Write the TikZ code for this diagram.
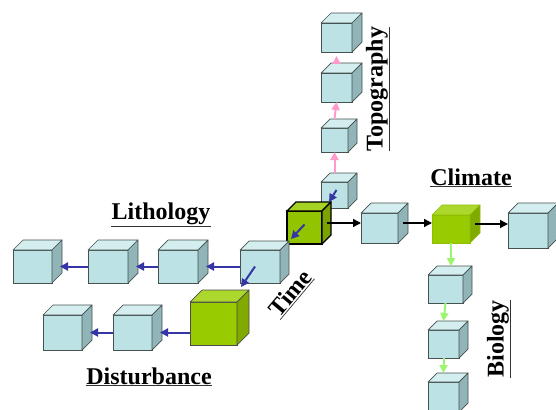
\documentclass[tikz,border=0pt]{standalone}
\usepackage{fontspec}
\setmainfont{Liberation Serif}
\usetikzlibrary{arrows.meta}
\definecolor{bfront}{HTML}{BDE2E5}
\definecolor{btop}{HTML}{D4EEF0}
\definecolor{bside}{HTML}{90B4B8}
\definecolor{bline}{HTML}{45524F}
\definecolor{gfront}{HTML}{99CC00}
\definecolor{gtop}{HTML}{ACD72C}
\definecolor{gside}{HTML}{80AA00}
\definecolor{gline}{HTML}{8DBE00}
\definecolor{tfront}{HTML}{93C400}
\definecolor{ttop}{HTML}{A6D224}
\definecolor{tside}{HTML}{7AA200}
\definecolor{arrblue}{HTML}{3535A5}
\definecolor{arrpink}{HTML}{FF9ACB}
\definecolor{arrgreen}{HTML}{9BF56E}
\newcommand\drawcube[8]{%
 \node[inner sep=0pt, outer sep=0pt, minimum width={(#4-#2)*1pt}, minimum height={(#5-#3)*1pt}, fill=#7front, #8] (#1) at ({(#2+#4)/2},{(#3+#5)/2}) {};
 \filldraw[fill=#7top, #8, line join=round] (#1.north west) -- ++(#6,-#6) -- ++({#4-#2},0) -- (#1.north east) -- cycle;
 \filldraw[fill=#7side, #8, line join=round] (#1.north east) -- ++(#6,-#6) -- ++(0,{#5-#3}) -- (#1.south east) -- cycle;
 \path (#1.east) ++({#6/2},{-#6/2}) coordinate (#1-s);
 \path (#1.north) ++(0,-#6) coordinate (#1-t);
 \path (#1.north east) ++(#6,-#6) coordinate (#1-k);
}
\tikzset{
 bcube/.style={draw=bline, line width=0.7pt},
 gcube/.style={draw=gline, line width=0.6pt},
 dcube/.style={draw=black!70, line width=0.7pt},
 tcube/.style={draw=black, line width=1.4pt},
 arr/.style={line width=2pt, -{Triangle[length=8pt,width=8pt]}},
 bluearr/.style={arr, draw=arrblue, arrblue},
 pinkarr/.style={arr, draw=arrpink, arrpink},
 greenarr/.style={arr, draw=arrgreen, arrgreen},
 blackarr/.style={arr, draw=black, line width=1.4pt},
 lbl/.style={font=\fontsize{24}{28}\selectfont\bfseries, inner xsep=0pt, inner ysep=1pt},
}
\newcommand\uline[1]{\draw[line width=0.7pt, black!80] (#1.south west) -- (#1.south east);}
\begin{document}
\begin{tikzpicture}[x=1pt, y=-1pt]
\fill[white] (0,0) rectangle (556,409);
\useasboundingbox (0,0) rectangle (556,409);
% topography column
\drawcube{T1}{321}{23}{352}{52}{10}{b}{bcube}
\drawcube{T2}{321}{73}{352}{102}{10}{b}{bcube}
\drawcube{T3}{321}{128}{348}{152}{9}{b}{bcube}
\drawcube{T4}{321}{182}{348}{208}{9}{b}{bcube}
% climate row
\drawcube{A}{361}{213}{398}{243}{10}{b}{bcube}
\drawcube{C}{432}{215}{470}{243}{10}{g}{gcube}
\drawcube{R}{508}{213}{548}{248}{10}{b}{bcube}
% biology column
\drawcube{B1}{428}{275}{463}{303}{9}{b}{bcube}
\drawcube{B2}{428}{330}{459}{358}{9}{b}{bcube}
\drawcube{B3}{428}{382}{459}{412}{9}{b}{bcube}
% lithology row
\drawcube{L4}{13}{250}{52}{283}{10}{b}{bcube}
\drawcube{L3}{88}{250}{128}{283}{10}{b}{bcube}
\drawcube{L2}{158}{250}{198}{283}{10}{b}{bcube}
% disturbance row
\drawcube{D2}{43}{315}{82}{350}{10}{b}{bcube}
\drawcube{D1}{113}{315}{152}{350}{10}{b}{bcube}
% time cube and neighbours
\drawcube{G}{287}{211}{322}{244}{9}{t}{tcube}
\drawcube{L1}{240}{250}{280}{283}{9}{b}{bcube}
\drawcube{D0}{190}{302}{237}{345}{12}{g}{dcube}
% pink arrows
\draw[pinkarr] (T4-t) -- (T3.south);
\draw[pinkarr] (T3-t) -- (T2.south);
\draw[pinkarr] (T2-t) -- ([yshift=-4pt]T1.south);
% black arrows
\draw[blackarr] (G-s) -- (G-s -| A.west);
\draw[blackarr] (A-s) -- (A-s -| C.west);
\draw[blackarr] (C-s) -- (C-s -| R.west);
% green arrows
\draw[greenarr] (C.south) -- (C.south |- B1-t);
\draw[greenarr] (B1.south) -- (B2-t);
\draw[greenarr] (B2.south) -- (B3-t);
% blue arrows
\draw[bluearr] (L1.west) -- ([xshift=8pt]L2.east);
\draw[bluearr] (L2.west) -- ([xshift=8pt]L3.east);
\draw[bluearr] (L3.west) -- ([xshift=8pt]L4.east);
\draw[bluearr] (D0.west |- D1.east) -- ([xshift=8pt]D1.east);
\draw[bluearr] (D1.west) -- ([xshift=8pt]D2.east);
% time arrows
\draw[bluearr] ([xshift=2pt,yshift=5pt]T4.center) -- ([xshift=-2pt]G-k);
\draw[bluearr] ([yshift=3pt]G.center) -- ([xshift=2pt,yshift=2pt]L1-k);
\draw[bluearr] ([xshift=-5pt]L1.center) -- ([xshift=-8pt,yshift=3pt]D0-k);
% labels
\node[lbl] (lith) at (161,214) {Lithology}; \uline{lith}
\node[lbl] (dist) at (149,376) {Disturbance}; \uline{dist}
\node[lbl] (clim) at (471,177) {Climate}; \uline{clim}
\node[lbl, rotate=90] (topo) at (377,89) {Topography}; \uline{topo}
\node[lbl, rotate=90] (bio) at (498,339) {Biology}; \uline{bio}
\node[lbl, rotate=50] (time) at (290,293) {Time}; \uline{time}
\end{tikzpicture}
\end{document}
